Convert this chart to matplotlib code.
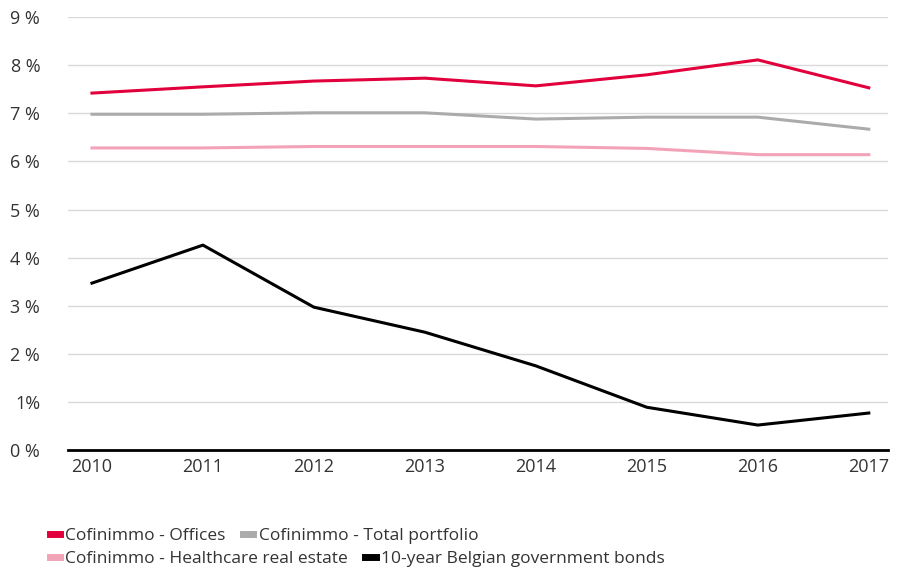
import matplotlib.pyplot as plt
import numpy as np

# yields in %
years = ['2010', '2011', '2012', '2013', '2014', '2015', '2016', '2017']
offices = [7.42, 7.55, 7.67, 7.73, 7.57, 7.80, 8.11, 7.53]
total_portfolio = [6.98, 6.98, 7.01, 7.01, 6.88, 6.92, 6.92, 6.67]
healthcare = [6.28, 6.28, 6.31, 6.31, 6.31, 6.27, 6.14, 6.14]
bonds = [3.47, 4.26, 2.97, 2.45, 1.75, 0.89, 0.52, 0.77]
yticks = list(range(0, 10))

plt.rcParams['font.family'] = ['Open Sans', 'DejaVu Sans']

fig = plt.figure(figsize=(9.03, 5.69), dpi=100)
ax = fig.add_axes([0.0753, 0.209, 0.9077, 0.761])

x = np.arange(len(years))
l1, = ax.plot(x, offices, color='#E2003C', lw=2.2, label='Cofinimmo - Offices')
l2, = ax.plot(x, total_portfolio, color='#ABABAB', lw=2.2, label='Cofinimmo - Total portfolio')
l3, = ax.plot(x, healthcare, color='#F3A3B8', lw=2.2, label='Cofinimmo - Healthcare real estate')
l4, = ax.plot(x, bonds, color='black', lw=2.2, label='10-year Belgian government bonds')

ax.set_xlim(-0.216, 7.17)
ax.set_ylim(0, 9)
ax.set_yticks(yticks)
ax.set_yticklabels([f'{t} %' if t != 1 else '1%' for t in yticks])
ax.set_xticks(x)
ax.set_xticklabels(years)
ax.grid(axis='y', color='#D9D9D9', lw=1)
ax.set_axisbelow(True)
for s in ['top', 'right', 'left']:
    ax.spines[s].set_visible(False)
ax.spines['bottom'].set_color('black')
ax.spines['bottom'].set_linewidth(2)
ax.tick_params(axis='both', length=0, labelsize=13, colors='#333333')
ax.tick_params(axis='y', pad=20)
ax.tick_params(axis='x', pad=6)

legend_kw = dict(frameon=False, fontsize=12.5, handlelength=0.6, handletextpad=0.3,
                 columnspacing=1.0, borderpad=0, borderaxespad=0, ncol=2,
                 loc='center left', labelcolor='#333333')
leg1 = fig.legend(handles=[l1, l2], bbox_to_anchor=(0.055, 1 - 536 / 569), **legend_kw)
leg2 = fig.legend(handles=[l3, l4], bbox_to_anchor=(0.055, 1 - 559 / 569), **legend_kw)
for leg in (leg1, leg2):
    for h in leg.legend_handles:
        h.set_linewidth(5)

fig.savefig('out.png', dpi=100)
